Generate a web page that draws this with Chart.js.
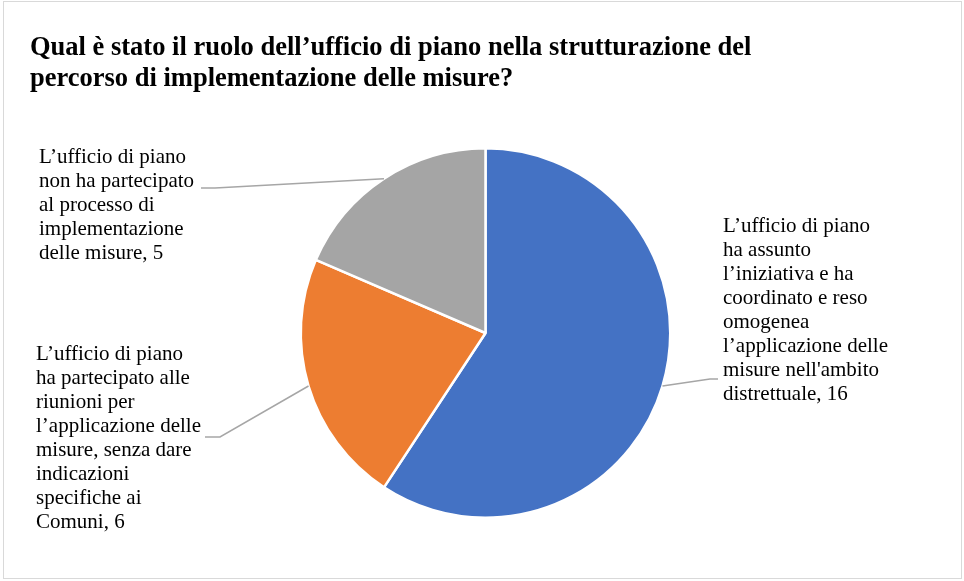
<!DOCTYPE html>
<html>
<head>
<meta charset="utf-8">
<script src="https://cdn.jsdelivr.net/npm/chart.js@4"></script>
<style>
  html, body { margin: 0; padding: 0; background: #fff; }
  #wrap { position: relative; width: 964px; height: 581px; }
</style>
</head>
<body>
<div id="wrap"><canvas id="pieChart" width="964" height="581"></canvas></div>
<script>
const titleLines = [
  "Qual è stato il ruolo dell’ufficio di piano nella strutturazione del",
  "percorso di implementazione delle misure?"
];

// category labels, already broken into lines
const categories = [
  ["L’ufficio di piano", "ha assunto", "l’iniziativa e ha", "coordinato e reso", "omogenea",
   "l’applicazione delle", "misure nell'ambito", "distrettuale"],
  ["L’ufficio di piano", "ha partecipato alle", "riunioni per", "l’applicazione delle",
   "misure, senza dare", "indicazioni", "specifiche ai", "Comuni"],
  ["L’ufficio di piano", "non ha partecipato", "al processo di", "implementazione",
   "delle misure"]
];

const values = [16, 6, 5];
const colors = ["#4472C4", "#ED7D31", "#A5A5A5"];

// where each label block sits and how its leader line bends
const labelPlacement = [
  { x: 723, baseline: 232, elbow: [710, 379], end: [718, 379] },
  { x: 36, baseline: 360, elbow: [220, 437], end: [205, 437] },
  { x: 39, baseline: 163, elbow: [215, 188], end: [201, 188] }
];

const labelFont = '21px "Liberation Serif", "Times New Roman", serif';
const lineStep = 24;

const outsideLabels = {
  id: 'outsideLabels',
  afterDatasetsDraw(chart) {
    const ctx = chart.ctx;
    const meta = chart.getDatasetMeta(0);
    meta.data.forEach((arc, i) => {
      const p = labelPlacement[i];
      const { x, y, startAngle, endAngle, outerRadius } = arc.getProps(['x', 'y', 'startAngle', 'endAngle', 'outerRadius'], true);
      const mid = (startAngle + endAngle) / 2;
      const ax = x + Math.cos(mid) * outerRadius;
      const ay = y + Math.sin(mid) * outerRadius;

      ctx.save();
      ctx.strokeStyle = '#A6A6A6';
      ctx.lineWidth = 1.5;
      ctx.beginPath();
      ctx.moveTo(ax, ay);
      ctx.lineTo(p.elbow[0], p.elbow[1]);
      ctx.lineTo(p.end[0], p.end[1]);
      ctx.stroke();

      const lines = categories[i].slice();
      lines[lines.length - 1] += ', ' + values[i];
      ctx.fillStyle = '#000';
      ctx.font = labelFont;
      ctx.textAlign = 'left';
      ctx.textBaseline = 'alphabetic';
      lines.forEach((t, k) => ctx.fillText(t, p.x, p.baseline + k * lineStep));
      ctx.restore();
    });
  }
};

const frame = {
  id: 'frame',
  afterDraw(chart) {
    const ctx = chart.ctx;
    ctx.save();
    ctx.strokeStyle = '#D9D9D9';
    ctx.lineWidth = 1;
    ctx.strokeRect(3.5, 1.5, 958, 577);
    ctx.restore();
  }
};

new Chart(document.getElementById('pieChart'), {
  type: 'pie',
  data: {
    labels: categories,
    datasets: [{
      data: values,
      backgroundColor: colors,
      borderColor: '#FFFFFF',
      borderWidth: 2.5
    }]
  },
  options: {
    responsive: false,
    animation: false,
    layout: { padding: { left: 30, right: 23, top: 0, bottom: 62 } },
    plugins: {
      legend: { display: false },
      tooltip: { enabled: false },
      title: {
        display: true,
        text: titleLines,
        align: 'start',
        color: '#000',
        font: { family: '"Liberation Serif", "Times New Roman", serif', size: 26.5, weight: 'bold', lineHeight: 1.17 },
        padding: { top: 33, bottom: 52 }
      }
    }
  },
  plugins: [outsideLabels, frame]
});
</script>
</body>
</html>
